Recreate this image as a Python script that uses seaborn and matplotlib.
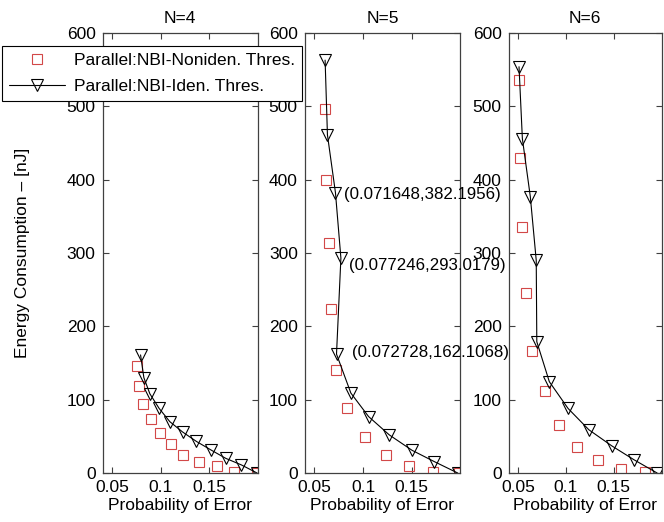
import matplotlib
matplotlib.use("Agg")
import matplotlib.pyplot as plt
import seaborn as sns
import pandas as pd

# ---------------- data ----------------
titles = ["N=4", "N=5", "N=6"]
xticks = [0.05, 0.1, 0.15]
xtick_labels = ["0.05", "0.1", "0.15"]
yticks = [0, 100, 200, 300, 400, 500, 600]

n4_tri_x = [0.0793, 0.0827, 0.0889, 0.0985, 0.1095, 0.1226, 0.137, 0.1525, 0.1672, 0.1834, 0.1995]
n4_tri_y = [161, 130, 108, 88, 70, 56, 43, 31, 20, 11, 0]
n4_sq_x = [0.0758, 0.0778, 0.082, 0.0896, 0.0992, 0.1102, 0.1232, 0.1394, 0.1582, 0.1758, 0.1995]
n4_sq_y = [146, 118, 94, 73, 55, 40, 25, 15, 9, 2, 0]

n5_tri_x = [0.061, 0.0634, 0.071648, 0.077246, 0.072728, 0.0875, 0.1057, 0.127, 0.1504, 0.1734, 0.1974]
n5_tri_y = [563, 461, 382.1956, 293.0179, 162.1068, 109, 77, 52, 31, 15.5, 0]
n5_sq_x = [0.061, 0.0618, 0.0652, 0.0675, 0.072, 0.084, 0.1023, 0.1236, 0.147, 0.1724, 0.199]
n5_sq_y = [497, 400, 314, 223, 140, 88, 49.5, 24.5, 9.5, 2, 0]

n6_tri_x = [0.051, 0.0545, 0.0628, 0.069, 0.0696, 0.0827, 0.1023, 0.124, 0.148, 0.1713, 0.1954]
n6_tri_y = [554, 456, 377, 290, 179, 124.5, 88, 59, 37, 18, 0]
n6_sq_x = [0.051, 0.0518, 0.0541, 0.0587, 0.0648, 0.0786, 0.0923, 0.1119, 0.1335, 0.1576, 0.183]
n6_sq_y = [536, 430, 335, 246, 167, 112, 65, 35, 18, 5, 1]

# annotated points in the N=5 panel
ann_x = [0.071648, 0.077246, 0.072728]
ann_y = [382.1956, 293.0179, 162.1068]
ann_offsets = [(6.5, -1.5), (5.5, -5.5), (11, 1.0)]

label_sq = "Parallel:NBI-Noniden. Thres."
label_tri = "Parallel:NBI-Iden. Thres."

# ---------------- style ----------------
sns.set_style("ticks")
plt.rcParams["font.family"] = ["Liberation Sans", "DejaVu Sans"]
plt.rcParams["font.size"] = 12
plt.rcParams["text.color"] = "black"
plt.rcParams["axes.labelcolor"] = "black"
plt.rcParams["xtick.color"] = "black"
plt.rcParams["ytick.color"] = "black"

RED = "#d24848"
SPINE = "#404040"

fig = plt.figure(figsize=(6.64, 5.22), dpi=100)
fig.patch.set_facecolor("white")

positions = [
    (102.5 / 664, 49 / 522, 155 / 664, 440 / 522),
    (304.7 / 664, 49 / 522, 155.5 / 664, 440 / 522),
    (508.5 / 664, 49 / 522, 153 / 664, 440 / 522),
]
series = [
    (n4_sq_x, n4_sq_y, n4_tri_x, n4_tri_y),
    (n5_sq_x, n5_sq_y, n5_tri_x, n5_tri_y),
    (n6_sq_x, n6_sq_y, n6_tri_x, n6_tri_y),
]

axes = []
for i, (pos, (sx, sy, tx, ty)) in enumerate(zip(positions, series)):
    ax = fig.add_axes(pos)
    ax.patch.set_alpha(0)
    sq = pd.DataFrame({"x": sx, "y": sy})
    tr = pd.DataFrame({"x": tx, "y": ty})
    sns.lineplot(data=sq, x="x", y="y", sort=False, estimator=None, ax=ax,
                 linestyle="none", marker="s", markersize=6.5,
                 markerfacecolor="none", markeredgecolor=RED,
                 markeredgewidth=0.8, color=RED, label=label_sq, legend=False)
    sns.lineplot(data=tr, x="x", y="y", sort=False, estimator=None, ax=ax,
                 color="black", linewidth=0.8, marker="v", markersize=8.5,
                 markerfacecolor="none", markeredgecolor="black",
                 markeredgewidth=0.8, label=label_tri, legend=False)
    ax.set_xlim(0.04, 0.2)
    ax.set_ylim(0, 600)
    ax.set_xticks(xticks)
    ax.set_xticklabels(xtick_labels)
    ax.set_yticks(yticks)
    ax.tick_params(direction="in", top=True, right=True, length=4,
                   width=0.8, color=SPINE, labelcolor="black",
                   labelsize=12.5, pad=5)
    for sp in ax.spines.values():
        sp.set_visible(True)
        sp.set_color(SPINE)
        sp.set_linewidth(0.9)
    ax.set_title(titles[i], fontsize=12.5, pad=7, color="black")
    ax.set_xlabel("Probability of Error", fontsize=12.5, labelpad=2)
    ax.set_ylabel("")
    axes.append(ax)

axes[0].set_ylabel("Energy Consumption \u2013 [nJ]", fontsize=12.5, labelpad=26)

# annotations on N=5 panel
for x, y, (dx, dy) in zip(ann_x, ann_y, ann_offsets):
    axes[1].annotate(f"({x},{y})", xy=(x, y), xytext=(dx, dy),
                     textcoords="offset points", ha="left", va="center",
                     fontsize=12.2, color="black",
                     annotation_clip=False, zorder=10)

handles, labels = axes[0].get_legend_handles_labels()
leg = fig.legend(handles, labels, loc="upper left",
                 bbox_to_anchor=(2 / 664, 1 - 46 / 522),
                 frameon=True, fancybox=False, edgecolor="black",
                 framealpha=1, fontsize=12.5, handlelength=3.2,
                 handletextpad=0.55, labelspacing=0.62, borderpad=0.4,
                 borderaxespad=0)
leg.get_frame().set_linewidth(0.8)

fig.savefig("out.png", dpi=100, facecolor="white")
